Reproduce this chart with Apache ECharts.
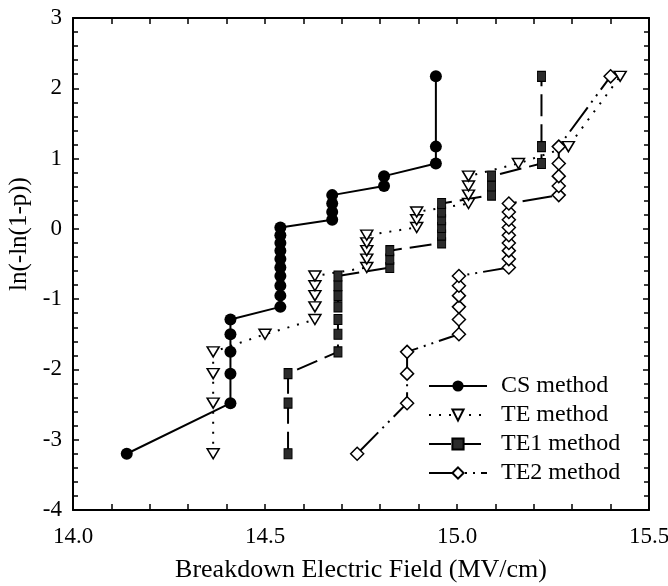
<!DOCTYPE html>
<html>
<head>
<meta charset="utf-8">
<script src="https://cdn.jsdelivr.net/npm/echarts@6/dist/echarts.min.js"></script>
<style>html,body{margin:0;padding:0;background:#fff}#c{width:668px;height:586px}</style>
</head>
<body>
<div id="c"></div>
<script>
// ---- data ----
const seriesNames = ['CS method', 'TE method', 'TE1 method', 'TE2 method'];
const xTickLabels = ['14.0', '14.5', '15.0', '15.5'];
const yTickLabels = ['-4', '-3', '-2', '-1', '0', '1', '2', '3'];

// y = ln(-ln(1-p)) plotting positions
const csY  = [-3.20,-2.48,-2.06,-1.75,-1.50,-1.29,-1.11,-0.95,-0.81,-0.67,-0.55,-0.43,-0.31,-0.20,-0.09,0.02,0.13,0.24,0.36,0.48,0.61,0.75,0.93,1.17,2.17];
const csX  = [14.14,14.41,14.41,14.41,14.41,14.41,14.54,14.54,14.54,14.54,14.54,14.54,14.54,14.54,14.54,14.54,14.675,14.675,14.675,14.675,14.81,14.81,14.945,14.945,14.945];

const teY  = [-3.20,-2.48,-2.06,-1.75,-1.50,-1.29,-1.11,-0.95,-0.81,-0.67,-0.55,-0.43,-0.31,-0.20,-0.09,0.02,0.13,0.24,0.36,0.48,0.61,0.75,0.93,1.17,2.17];
const teX  = [14.365,14.365,14.365,14.365,14.50,14.63,14.63,14.63,14.63,14.63,14.765,14.765,14.765,14.765,14.765,14.895,14.895,14.895,15.03,15.03,15.03,15.03,15.16,15.29,15.425];

const te1Y = [-3.20,-2.48,-2.06,-1.75,-1.50,-1.29,-1.11,-0.95,-0.81,-0.67,-0.55,-0.43,-0.31,-0.20,-0.09,0.02,0.13,0.24,0.36,0.48,0.61,0.75,0.93,1.17,2.17];
const te1X = [14.56,14.56,14.56,14.69,14.69,14.69,14.69,14.69,14.69,14.69,14.825,14.825,14.825,14.96,14.96,14.96,14.96,14.96,14.96,15.09,15.09,15.09,15.22,15.22,15.22];

const te2Y = [-3.20,-2.48,-2.06,-1.75,-1.50,-1.29,-1.11,-0.95,-0.81,-0.67,-0.55,-0.43,-0.31,-0.20,-0.09,0.02,0.13,0.24,0.36,0.48,0.61,0.75,0.93,1.17,2.17];
const te2X = [14.74,14.87,14.87,14.87,15.005,15.005,15.005,15.005,15.005,15.005,15.135,15.135,15.135,15.135,15.135,15.135,15.135,15.135,15.135,15.265,15.265,15.265,15.265,15.265,15.40];

function pairs(xs, ys) { return xs.map((x, i) => [x, ys[i]]); }

const FONT = 'Liberation Serif';
const chart = echarts.init(document.getElementById('c'), null, {renderer: 'canvas'});

function xAxisBase(pos, showLabel) {
  return {
    type: 'value', position: pos, min: 14, max: 15.5, interval: 0.5,
    axisLine: {show: true, onZero: false, lineStyle: {color: '#000', width: 2}},
    axisTick: {show: true, inside: true, length: 6, lineStyle: {color: '#000', width: 1.5}},
    minorTick: {show: true, splitNumber: 5, length: 6, lineStyle: {color: '#000', width: 1.5}},
    splitLine: {show: false}, minorSplitLine: {show: false},
    axisLabel: {show: showLabel, margin: 15, color: '#000', fontFamily: FONT, fontSize: 23,
      formatter: v => { const s = v.toFixed(1); return xTickLabels.indexOf(s) >= 0 ? s : ''; }}
  };
}
function yAxisBase(pos, showLabel) {
  return {
    type: 'value', position: pos, min: -4, max: 3, interval: 1,
    axisLine: {show: true, onZero: false, lineStyle: {color: '#000', width: 2}},
    axisTick: {show: true, inside: true, length: 6, lineStyle: {color: '#000', width: 1.5}},
    minorTick: {show: true, splitNumber: 5, length: 5, lineStyle: {color: '#000', width: 1.5}},
    splitLine: {show: false}, minorSplitLine: {show: false},
    axisLabel: {show: showLabel, margin: 11, color: '#000', fontFamily: FONT, fontSize: 23,
      formatter: v => { const s = String(Math.round(v)); return yTickLabels.indexOf(s) >= 0 ? s : ''; }}
  };
}

const xMain = Object.assign(xAxisBase('bottom', true), {
  name: 'Breakdown Electric Field (MV/cm)', nameLocation: 'middle', nameGap: 47,
  nameTextStyle: {color: '#000', fontFamily: FONT, fontSize: 26}
});
const yMain = Object.assign(yAxisBase('left', true), {
  name: 'ln(-ln(1-p))', nameLocation: 'middle', nameGap: 40, nameRotate: 90,
  nameTextStyle: {color: '#000', fontFamily: FONT, fontSize: 25, padding: [0, 0, 0, 60]}
});

const option = {
  backgroundColor: '#fff',
  animation: false,
  grid: {left: 73, right: 19, top: 18, bottom: 76, containLabel: false, outerBoundsMode: 'none'},
  xAxis: [xMain, xAxisBase('top', false)],
  yAxis: [yMain, yAxisBase('right', false)],
  legend: {
    orient: 'vertical', left: 428, top: 374, itemWidth: 58, itemHeight: 14, itemGap: 5,
    padding: 0,
    textStyle: {color: '#000', fontFamily: FONT, fontSize: 24, padding: [0, 0, 0, 9]},
    data: seriesNames
  },
  series: [
    {
      name: seriesNames[0], type: 'line', xAxisIndex: 0, yAxisIndex: 0,
      data: pairs(csX, csY), symbol: 'circle', symbolSize: 12,
      itemStyle: {color: '#000', borderColor: '#000', borderWidth: 0},
      lineStyle: {color: '#000', width: 2, type: 'solid'}, z: 4
    },
    {
      name: seriesNames[1], type: 'line', xAxisIndex: 0, yAxisIndex: 0,
      data: pairs(teX, teY), symbol: 'triangle', symbolSize: [12, 10], symbolRotate: 180,
      itemStyle: {color: '#fff', borderColor: '#000', borderWidth: 1.5},
      lineStyle: {color: '#000', width: 2, type: [2, 8]}, z: 3
    },
    {
      name: seriesNames[2], type: 'line', xAxisIndex: 0, yAxisIndex: 0,
      data: pairs(te1X, te1Y), symbol: 'rect', symbolSize: [8, 10],
      itemStyle: {color: '#2b2b2b', borderColor: '#000', borderWidth: 1},
      lineStyle: {color: '#000', width: 2, type: [22, 8]}, z: 3
    },
    {
      name: seriesNames[3], type: 'line', xAxisIndex: 0, yAxisIndex: 0,
      data: pairs(te2X, te2Y), symbol: 'diamond', symbolSize: [13, 13],
      itemStyle: {color: '#fff', borderColor: '#000', borderWidth: 1.5},
      lineStyle: {color: '#000', width: 2, type: [30, 6, 2, 6, 2, 6]}, z: 3
    }
  ]
};
chart.setOption(option);
</script>
</body>
</html>
